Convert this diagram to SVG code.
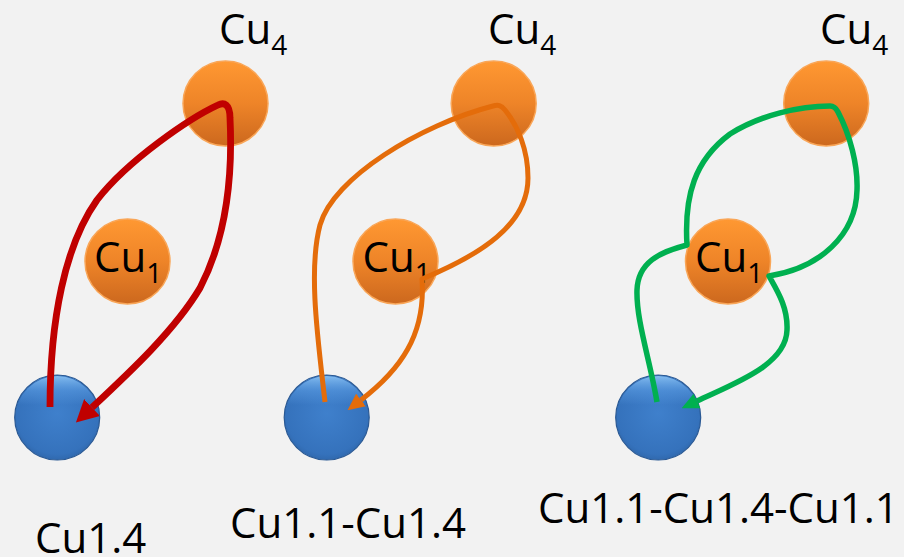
<svg xmlns="http://www.w3.org/2000/svg" width="904" height="557" viewBox="0 0 904 557">
  <defs>
    <linearGradient id="gOrange" x1="0" y1="0" x2="0" y2="1">
      <stop offset="0" stop-color="#FF9832"/>
      <stop offset="0.5" stop-color="#EE8428"/>
      <stop offset="1" stop-color="#CC681E"/>
    </linearGradient>
    <radialGradient id="gBlue" cx="0.5" cy="0.45" r="0.6">
      <stop offset="0" stop-color="#3F80CC"/>
      <stop offset="0.8" stop-color="#3572BC"/>
      <stop offset="1" stop-color="#2C62A4"/>
    </radialGradient>
    <linearGradient id="gBevel" x1="0" y1="0" x2="0" y2="1">
      <stop offset="0" stop-color="#8CC4F5" stop-opacity="0.9"/>
      <stop offset="0.18" stop-color="#5EA0E6" stop-opacity="0.5"/>
      <stop offset="0.35" stop-color="#5EA0E6" stop-opacity="0"/>
    </linearGradient>
    <marker id="arrowRed" markerUnits="userSpaceOnUse" viewBox="0 0 22 23" refX="0" refY="11.5" markerWidth="22" markerHeight="23" orient="auto">
      <path d="M0,0 L22,11.5 L0,23 Z" fill="#C00000"/>
    </marker>
    <marker id="arrowOrange" markerUnits="userSpaceOnUse" viewBox="0 0 17 16" refX="0" refY="8" markerWidth="17" markerHeight="16" orient="auto">
      <path d="M0,0 L17,8 L0,16 Z" fill="#E46C0A"/>
    </marker>
    <marker id="arrowGreen" markerUnits="userSpaceOnUse" viewBox="0 0 17 16" refX="0" refY="8" markerWidth="17" markerHeight="16" orient="auto">
      <path d="M0,0 L17,8 L0,16 Z" fill="#00B050"/>
    </marker>
  </defs>
  <style>
    .cu { fill: url(#gOrange); stroke: #F9A658; stroke-width: 1.5; }
    .site { fill: url(#gBlue); stroke: #2A5994; stroke-width: 1.2; }
    .bevel { fill: url(#gBevel); stroke: none; }
    text { font-family: "Open Sans", "Noto Sans", sans-serif; font-size: 42px; fill: #000; }
    .sub { font-size: 28px; }
    .path { fill: none; stroke-linecap: butt; stroke-linejoin: round; }
    .red { stroke: #C00000; stroke-width: 6.8; marker-end: url(#arrowRed); }
    .orange { stroke: #E46C0A; stroke-width: 5; marker-end: url(#arrowOrange); }
    .green { stroke: #00B050; stroke-width: 5.5; marker-end: url(#arrowGreen); }
  </style>

  <rect width="904" height="557" fill="#F2F2F2"/>

  <!-- Panel 1: direct hop Cu4 -> site -->
  <g id="panel1">
    <g id="p1-cu4">
      <circle class="cu" cx="225.5" cy="103.5" r="42.5"/>
      <text x="219" y="44">Cu<tspan class="sub" dy="10.5">4</tspan></text>
    </g>
    <g id="p1-cu1">
      <circle class="cu" cx="127.5" cy="261.5" r="42.5"/>
      <text x="94" y="272">Cu<tspan class="sub" dy="11">1</tspan></text>
    </g>
    <g id="p1-site">
      <circle class="site" cx="57.2" cy="417.5" r="42.5"/>
      <circle class="bevel" cx="57.2" cy="417.5" r="41.5"/>
    </g>
    <text id="p1-label" x="35" y="553">Cu1.4</text>
  </g>

  <!-- Panel 2: hop via Cu1 -->
  <g id="panel2">
    <g id="p2-cu4">
      <circle class="cu" cx="493.7" cy="103.5" r="42.5"/>
      <text x="488" y="44">Cu<tspan class="sub" dy="10.5">4</tspan></text>
    </g>
    <g id="p2-cu1">
      <circle class="cu" cx="395.5" cy="261.5" r="42.5"/>
      <text x="362.5" y="272">Cu<tspan class="sub" dy="11">1</tspan></text>
    </g>
    <g id="p2-site">
      <circle class="site" cx="326.7" cy="417.5" r="42.5"/>
      <circle class="bevel" cx="326.7" cy="417.5" r="41.5"/>
    </g>
    <text id="p2-label" x="230" y="538">Cu1.1-Cu1.4</text>
  </g>

  <!-- Panel 3: hop via Cu1 on both branches -->
  <g id="panel3">
    <g id="p3-cu4">
      <circle class="cu" cx="826.2" cy="103.5" r="42.5"/>
      <text x="820" y="44">Cu<tspan class="sub" dy="10.5">4</tspan></text>
    </g>
    <g id="p3-cu1">
      <circle class="cu" cx="728" cy="261.5" r="42.5"/>
      <text x="695" y="272">Cu<tspan class="sub" dy="11">1</tspan></text>
    </g>
    <g id="p3-site">
      <circle class="site" cx="658.2" cy="417.5" r="42.5"/>
      <circle class="bevel" cx="658.2" cy="417.5" r="41.5"/>
    </g>
    <text id="p3-label" x="538" y="523">Cu1.1-Cu1.4-Cu1.1</text>
  </g>

  <!-- Pathway loops -->
  <g id="connectors">
    <path class="path red" d="M50,407 C50,320 65,245 97,200 C128,160 190,118 218,105 C224,102 230,104 230,118 C233,180 225,240 200,288 C175,330 130,372 92,407.5"/>
    <path class="path orange" d="M325,402 C318,340 308,270 320,225 C333,178 420,125 493,106 C498,104.5 501,105 505,110 C518,126 528,150 528,178 C528,225 480,255 422,279 C426,335 400,370 361,400"/>
    <path class="path green" d="M657,402 C650,360 636,320 637,290 C638,262 660,252 687,245 C684,195 695,160 730,134 C760,115 800,106 830,106 C834,106 836,108 838,112 C850,135 858,165 857,190 C856,235 820,268 769,276 C778,292 788,308 787,330 C786,365 735,383 697,401"/>
  </g>
</svg>
